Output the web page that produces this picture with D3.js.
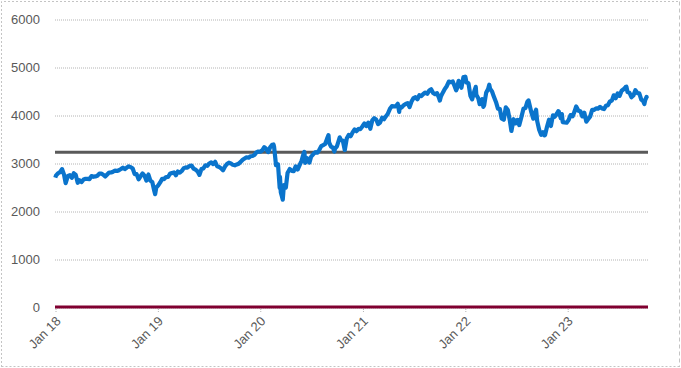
<!DOCTYPE html>
<html><head><meta charset="utf-8">
<script src="https://cdn.jsdelivr.net/npm/d3@7"></script>
<style>
html,body{margin:0;padding:0;background:#fff;}
svg{display:block;}
text{font-family:"Liberation Sans",Arial,sans-serif;}
</style></head>
<body>
<svg id="c" width="681" height="368"></svg>
<script>
const yTicks = [0, 1000, 2000, 3000, 4000, 5000, 6000];
const xTickDates = ["2018-01-01","2019-01-01","2020-01-01","2021-01-01","2022-01-01","2023-01-01"];
const xTickLabels = ["Jan 18","Jan 19","Jan 20","Jan 21","Jan 22","Jan 23"];
const refLevel = 3223;
const zeroLevel = 0;
const series = [
["2018-01-02",2695],["2018-01-05",2743],["2018-01-12",2786],["2018-01-19",2810],["2018-01-26",2873],["2018-02-02",2762],["2018-02-08",2581],["2018-02-16",2732],["2018-02-23",2747],["2018-03-02",2691],["2018-03-09",2786],["2018-03-16",2752],["2018-03-23",2588],["2018-03-29",2641],["2018-04-06",2604],["2018-04-13",2656],["2018-04-20",2670],["2018-04-27",2670],["2018-05-04",2663],["2018-05-11",2728],["2018-05-18",2713],["2018-05-25",2721],["2018-06-01",2735],["2018-06-08",2779],["2018-06-15",2780],["2018-06-22",2755],["2018-06-29",2718],["2018-07-06",2760],["2018-07-13",2801],["2018-07-20",2802],["2018-07-27",2819],["2018-08-03",2840],["2018-08-10",2833],["2018-08-17",2850],["2018-08-24",2875],["2018-08-31",2902],["2018-09-07",2872],["2018-09-14",2905],["2018-09-21",2930],["2018-09-28",2914],["2018-10-05",2885],["2018-10-12",2767],["2018-10-19",2768],["2018-10-26",2659],["2018-11-02",2723],["2018-11-09",2781],["2018-11-16",2736],["2018-11-23",2633],["2018-11-30",2760],["2018-12-07",2633],["2018-12-14",2600],["2018-12-21",2417],["2018-12-24",2351],["2018-12-28",2486],
["2019-01-04",2532],["2019-01-11",2596],["2019-01-18",2671],["2019-01-25",2665],["2019-02-01",2707],["2019-02-08",2708],["2019-02-15",2776],["2019-02-22",2793],["2019-03-01",2804],["2019-03-08",2743],["2019-03-15",2822],["2019-03-22",2801],["2019-03-29",2834],["2019-04-05",2893],["2019-04-12",2907],["2019-04-18",2905],["2019-04-26",2940],["2019-05-03",2946],["2019-05-10",2881],["2019-05-17",2860],["2019-05-24",2826],["2019-05-31",2752],["2019-06-07",2873],["2019-06-14",2887],["2019-06-21",2950],["2019-06-28",2942],["2019-07-05",2990],["2019-07-12",3014],["2019-07-19",2977],["2019-07-26",3026],["2019-08-02",2932],["2019-08-09",2919],["2019-08-16",2889],["2019-08-23",2847],["2019-08-30",2926],["2019-09-06",2979],["2019-09-13",3007],["2019-09-20",2992],["2019-09-27",2962],["2019-10-04",2952],["2019-10-11",2970],["2019-10-18",2986],["2019-10-25",3023],["2019-11-01",3067],["2019-11-08",3093],["2019-11-15",3120],["2019-11-22",3110],["2019-11-29",3141],["2019-12-06",3146],["2019-12-13",3169],["2019-12-20",3221],["2019-12-27",3240],
["2020-01-03",3235],["2020-01-10",3265],["2020-01-17",3330],["2020-01-24",3295],["2020-01-31",3226],["2020-02-07",3328],["2020-02-14",3380],["2020-02-19",3386],["2020-02-21",3338],["2020-02-28",2954],["2020-03-06",2972],["2020-03-12",2481],["2020-03-13",2711],["2020-03-16",2386],["2020-03-20",2305],["2020-03-23",2237],["2020-03-27",2541],["2020-04-03",2489],["2020-04-09",2790],["2020-04-17",2875],["2020-04-24",2837],["2020-05-01",2831],["2020-05-08",2930],["2020-05-15",2864],["2020-05-22",2955],["2020-05-29",3044],["2020-06-05",3194],["2020-06-08",3232],["2020-06-11",3002],["2020-06-19",3098],["2020-06-26",3009],["2020-07-02",3130],["2020-07-10",3185],["2020-07-17",3225],["2020-07-24",3216],["2020-07-31",3271],["2020-08-07",3351],["2020-08-14",3373],["2020-08-21",3397],["2020-08-28",3508],["2020-09-02",3580],["2020-09-04",3427],["2020-09-11",3341],["2020-09-18",3319],["2020-09-23",3237],["2020-09-25",3298],["2020-10-02",3348],["2020-10-09",3477],["2020-10-12",3535],["2020-10-16",3483],["2020-10-23",3465],["2020-10-30",3270],["2020-11-06",3509],["2020-11-13",3585],["2020-11-20",3558],["2020-11-27",3638],["2020-12-04",3699],["2020-12-11",3663],["2020-12-18",3709],["2020-12-24",3703],["2020-12-31",3756],
["2021-01-08",3825],["2021-01-15",3768],["2021-01-22",3841],["2021-01-29",3714],["2021-02-05",3887],["2021-02-12",3934],["2021-02-19",3907],["2021-02-26",3811],["2021-03-05",3842],["2021-03-12",3943],["2021-03-19",3913],["2021-03-26",3975],["2021-04-01",4020],["2021-04-09",4129],["2021-04-16",4185],["2021-04-23",4180],["2021-04-30",4181],["2021-05-07",4233],["2021-05-12",4063],["2021-05-14",4174],["2021-05-21",4156],["2021-05-28",4204],["2021-06-04",4230],["2021-06-11",4247],["2021-06-18",4166],["2021-06-25",4281],["2021-07-02",4352],["2021-07-09",4370],["2021-07-16",4327],["2021-07-23",4412],["2021-07-30",4395],["2021-08-06",4437],["2021-08-13",4468],["2021-08-20",4442],["2021-08-27",4509],["2021-09-03",4535],["2021-09-10",4459],["2021-09-17",4433],["2021-09-24",4455],["2021-10-01",4357],["2021-10-04",4300],["2021-10-08",4391],["2021-10-15",4471],["2021-10-22",4545],["2021-10-29",4605],["2021-11-05",4697],["2021-11-12",4683],["2021-11-19",4698],["2021-11-26",4595],["2021-12-01",4513],["2021-12-03",4538],["2021-12-10",4712],["2021-12-17",4621],["2021-12-20",4568],["2021-12-27",4791],["2021-12-31",4766],
["2022-01-03",4796],["2022-01-07",4677],["2022-01-14",4662],["2022-01-21",4398],["2022-01-27",4326],["2022-02-04",4500],["2022-02-09",4587],["2022-02-11",4419],["2022-02-18",4349],["2022-02-23",4225],["2022-03-04",4329],["2022-03-08",4170],["2022-03-11",4204],["2022-03-18",4463],["2022-03-25",4543],["2022-03-29",4631],["2022-04-01",4546],["2022-04-08",4488],["2022-04-14",4392],["2022-04-22",4272],["2022-04-29",4132],["2022-05-06",4123],["2022-05-12",3930],["2022-05-20",3901],["2022-05-27",4158],["2022-06-03",4109],["2022-06-10",3901],["2022-06-16",3667],["2022-06-24",3912],["2022-07-01",3825],["2022-07-08",3899],["2022-07-14",3790],["2022-07-22",3962],["2022-07-29",4130],["2022-08-05",4145],["2022-08-12",4280],["2022-08-16",4305],["2022-08-19",4228],["2022-08-26",4058],["2022-09-02",3924],["2022-09-09",4067],["2022-09-12",4110],["2022-09-16",3873],["2022-09-23",3693],["2022-09-30",3586],["2022-10-07",3640],["2022-10-12",3577],["2022-10-14",3583],["2022-10-21",3753],["2022-10-28",3901],["2022-11-04",3771],["2022-11-11",3993],["2022-11-18",3965],["2022-11-25",4026],["2022-11-30",4080],["2022-12-02",4072],["2022-12-09",3934],["2022-12-13",4019],["2022-12-16",3852],["2022-12-23",3845],["2022-12-30",3840],
["2023-01-06",3895],["2023-01-13",3999],["2023-01-20",3972],["2023-01-27",4071],["2023-02-02",4179],["2023-02-10",4090],["2023-02-17",4079],["2023-02-24",3970],["2023-03-03",4046],["2023-03-10",3862],["2023-03-17",3917],["2023-03-24",3971],["2023-03-31",4109],["2023-04-06",4105],["2023-04-14",4138],["2023-04-21",4133],["2023-04-28",4169],["2023-05-05",4136],["2023-05-12",4124],["2023-05-19",4191],["2023-05-26",4205],["2023-06-02",4282],["2023-06-09",4299],["2023-06-16",4410],["2023-06-23",4348],["2023-06-30",4450],["2023-07-07",4399],["2023-07-14",4505],["2023-07-21",4536],["2023-07-28",4582],["2023-07-31",4589],["2023-08-04",4478],["2023-08-11",4464],["2023-08-18",4370],["2023-08-25",4406],["2023-09-01",4516],["2023-09-08",4457],["2023-09-15",4450],["2023-09-22",4320],["2023-09-29",4288],["2023-10-03",4229],["2023-10-06",4309],["2023-10-11",4377],["2023-10-12",4349]
];

const parse = d3.timeParse("%Y-%m-%d");
const data = series.map(d => ({date: parse(d[0]), value: d[1]}));
const svg = d3.select("#c");
const L = 55, R = 648, T = 19, B = 307;

const x = d3.scaleTime().domain([parse("2018-01-01"), parse("2023-10-16")]).range([L, R]);
const y = d3.scaleLinear().domain([0, 6000]).range([B, T]);

// outer border
svg.append("path").attr("d", "M1.5,367 V1.5 H679.5").attr("fill","none").attr("stroke","#c4c4c4").attr("stroke-dasharray","2 2");
svg.append("path").attr("d", "M1.5,366.5 H679.5").attr("fill","none").attr("stroke","#c4c4c4").attr("stroke-dasharray","2 2");
svg.append("path").attr("d", "M679.5,1.5 V367").attr("fill","none").attr("stroke","#c4c4c4").attr("stroke-dasharray","4 3");

// gridlines
const grid = svg.append("g").attr("transform", `translate(${L},0)`)
  .call(d3.axisLeft(y).tickValues(yTicks).tickSize(-(R - L)).tickFormat(""));
grid.select(".domain").remove();
grid.selectAll("line").attr("stroke","#b4b4b4").attr("stroke-dasharray","1 1")
  .attr("transform","translate(0,0.5)");

// y labels
const ya = svg.append("g").attr("transform", `translate(${L},0)`)
  .call(d3.axisLeft(y).tickValues(yTicks).tickSize(0).tickPadding(15).tickFormat(d3.format("d")));
ya.select(".domain").remove();
ya.selectAll("text").attr("fill","#595959").style("font-size","13px");

// x axis ticks and labels
const xa = svg.append("g").attr("transform", `translate(0,${B})`)
  .call(d3.axisBottom(x).tickValues(xTickDates.map(parse)).tickSize(6)
    .tickFormat((d, i) => xTickLabels[i]));
xa.select(".domain").remove();
xa.selectAll("line").attr("stroke","#b4b4b4").attr("stroke-dasharray","1 1").attr("transform","translate(0.5,0)");
xa.selectAll("text").attr("fill","#595959").style("font-size","13px")
  .attr("text-anchor","end").attr("x",0).attr("y",0).attr("dy","0")
  .attr("transform","translate(6,15) rotate(-45)");

// reference level line
svg.append("line").attr("x1",L).attr("x2",R).attr("y1",y(refLevel)).attr("y2",y(refLevel))
  .attr("stroke","#5a5a5a").attr("stroke-width",3);

// zero line
svg.append("line").attr("x1",L).attr("x2",R).attr("y1",y(zeroLevel)).attr("y2",y(zeroLevel))
  .attr("stroke","#800030").attr("stroke-width",3);

// series line
svg.append("path").datum(data)
  .attr("fill","none").attr("stroke","#0a74cc").attr("stroke-width",4.2)
  .attr("stroke-linejoin","round")
  .attr("d", d3.line().x(d => x(d.date)).y(d => y(d.value)));
</script>
</body></html>
